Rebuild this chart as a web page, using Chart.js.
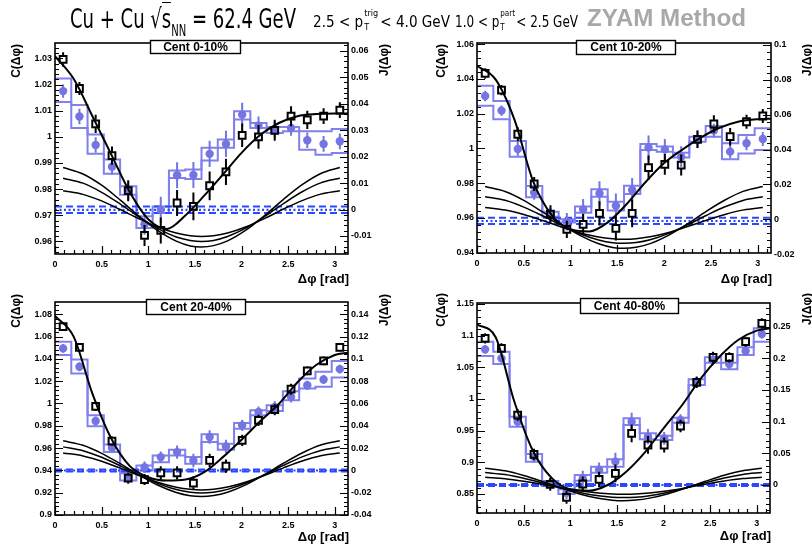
<!DOCTYPE html>
<html><head><meta charset="utf-8">
<script src="https://cdn.jsdelivr.net/npm/chart.js@4.4.1/dist/chart.umd.min.js"></script>
<style>
body{margin:0;width:812px;height:552px;background:#fff;position:relative;overflow:hidden;font-family:"Liberation Sans",Arial,sans-serif}
.pn{position:absolute}
.tt{position:absolute;white-space:nowrap;color:#000;z-index:5;transform-origin:0 0}
.nar{font-family:"Liberation Sans Narrow","DejaVu Sans Condensed","Liberation Sans",sans-serif;font-stretch:condensed}
.ss{display:inline-block;position:relative;width:17px;height:10px}
.ss .sp{position:absolute;left:1px;top:-9px;font-size:9px}
.ss .sb{position:absolute;left:1px;top:5px;font-size:9px}
</style></head><body>
<div class="pn" style="left:0;top:0"><canvas id="c1" width="406" height="290"></canvas></div>
<div class="pn" style="left:406px;top:0"><canvas id="c2" width="406" height="290"></canvas></div>
<div class="pn" style="left:0;top:290px"><canvas id="c3" width="406" height="262"></canvas></div>
<div class="pn" style="left:406px;top:290px"><canvas id="c4" width="406" height="262"></canvas></div>

<div class="tt nar" data-w="226" style="left:70px;top:3px;font-size:27px">Cu + Cu <span>√</span><span style="border-top:1.6px solid #000">s</span><span style="font-size:15px;position:relative;top:8px">NN</span> = 62.4 GeV</div>
<div class="tt nar" data-w="137" style="left:313px;top:13px;font-size:15px">2.5 &lt; p<span class="ss"><span class="sp">trig</span><span class="sb">T</span></span>&lt; 4.0 GeV</div>
<div class="tt nar" data-w="123" style="left:455px;top:13px;font-size:15px">1.0 &lt; p<span class="ss" style="width:19px"><span class="sp">part</span><span class="sb">T</span></span>&lt; 2.5 GeV</div>
<div class="tt" data-w="159" style="left:587px;top:4px;font-size:24px;font-weight:bold;color:#a8a8a8">ZYAM Method</div>

<script>
// ---------- shared categories / grids ----------
const BIN_X = [0.087,0.262,0.436,0.611,0.785,0.960,1.134,1.309,1.484,1.658,1.833,2.007,2.182,2.356,2.531,2.705,2.880,3.054];
const BIN_EDGES = [0,0.1745,0.3491,0.5236,0.6981,0.8727,1.0472,1.2217,1.3963,1.5708,1.7453,1.9199,2.0944,2.2689,2.4435,2.6180,2.7925,2.9671,3.1416];
const FIT_X = [0,0.2,0.4,0.6,0.8,1.0,1.2,1.4,1.6,1.8,2.0,2.2,2.4,2.6,2.8,3.0,3.1416];
const BG_X  = [0.087,0.3,0.5,0.7,0.9,1.1,1.3,1.45,1.571,1.7,1.85,2.05,2.25,2.45,2.65,2.85,3.054];
const X_TICKS = [0,0.5,1,1.5,2,2.5,3];

// ---------- Panel 1 : Cent 0-10% ----------
const P1_black    = [1.0296,1.0185,1.0050,0.9928,0.9794,0.9623,0.9642,0.9747,0.9734,0.9813,0.9866,1.0006,1.0000,1.0025,1.0079,1.0065,1.0079,1.0102];
const P1_blackErr = [0.0028,0.0025,0.0035,0.0035,0.004,0.004,0.005,0.005,0.0053,0.0055,0.005,0.0045,0.0045,0.004,0.0038,0.0035,0.003,0.003];
const P1_blue     = [1.0175,1.0078,0.9969,0.9886,0.9794,0.9666,0.9721,0.9853,0.9854,0.9935,0.9973,1.0085,1.0043,1.0028,1.0034,0.9987,0.9973,0.9983];
const P1_blueErr  = [0.0025,0.003,0.003,0.003,0.0035,0.004,0.005,0.005,0.005,0.005,0.005,0.0045,0.0035,0.003,0.003,0.003,0.003,0.003];
const P1_sysHi    = [1.0223,1.0122,1.0009,0.9913,0.9811,0.9696,0.9734,0.9871,0.9875,0.9958,0.9990,1.0098,1.0053,1.0038,1.0038,1.0021,1.0021,1.0030];
const P1_sysLo    = [1.0133,1.0034,0.9935,0.9859,0.9779,0.9651,0.9709,0.9843,0.9839,0.9910,0.9958,1.0066,1.0034,1.0015,1.0021,0.9951,0.9932,0.9938];
const P1_fit      = [1.0309,1.0222,1.0080,0.9935,0.9790,0.9685,0.9648,0.9700,0.9775,0.9856,0.9939,1.0007,1.0053,1.0079,1.0087,1.0089,1.0089];
const P1_bgA      = [0.9883,0.9858,0.9815,0.9758,0.9697,0.9642,0.9601,0.9583,0.9579,0.9584,0.9602,0.9644,0.9700,0.9761,0.9817,0.9860,0.9883];
const P1_bgB      = [0.9842,0.9823,0.9788,0.9743,0.9694,0.9650,0.9617,0.9604,0.9600,0.9604,0.9619,0.9652,0.9696,0.9745,0.9790,0.9824,0.9842];
const P1_bgC      = [0.9794,0.9780,0.9755,0.9722,0.9687,0.9655,0.9632,0.9622,0.9619,0.9622,0.9632,0.9656,0.9688,0.9724,0.9756,0.9781,0.9794];
const P1_base     = [0.9734,0.9721,0.9709];
const P1_yTicks   = [0.96,0.97,0.98,0.99,1.0,1.01,1.02,1.03];
const P1_jTicks   = [-0.01,0,0.01,0.02,0.03,0.04,0.05,0.06];

// ---------- Panel 2 : Cent 10-20% ----------
const P2_black    = [1.0431,1.0335,1.0081,0.9795,0.9622,0.9534,0.9563,0.9626,0.9540,0.9626,0.9889,0.9908,0.9904,1.0052,1.0140,1.0067,1.0153,1.0186];
const P2_blackErr = [0.003,0.003,0.004,0.004,0.005,0.005,0.006,0.007,0.007,0.008,0.007,0.006,0.006,0.005,0.005,0.005,0.004,0.004];
const P2_blue     = [1.0301,1.0217,0.9996,0.9745,0.9617,0.9578,0.9649,0.9741,0.9670,0.9760,1.0004,0.9994,0.9952,1.0052,1.0102,0.9981,1.0029,1.0054];
const P2_blueErr  = [0.003,0.003,0.004,0.004,0.004,0.005,0.006,0.007,0.007,0.007,0.007,0.006,0.006,0.005,0.004,0.004,0.004,0.004];
const P2_sysHi    = [1.0360,1.0272,1.0042,0.9783,0.9636,0.9592,0.9665,0.9764,0.9693,0.9785,1.0025,1.0010,0.9975,1.0067,1.0128,1.0029,1.0077,1.0115];
const P2_sysLo    = [1.0245,1.0167,0.9952,0.9718,0.9607,0.9573,0.9630,0.9722,0.9642,0.9737,0.9990,0.9981,0.9948,1.0038,1.0067,0.9937,0.9971,0.9990];
const P2_fit      = [1.0475,1.0395,1.0165,0.9810,0.9615,0.9535,0.9522,0.9575,0.9680,0.9805,0.9915,0.9995,1.0065,1.0120,1.0155,1.0168,1.0170];
const P2_bgA      = [0.9780,0.9752,0.9701,0.9634,0.9563,0.9499,0.9451,0.9430,0.9425,0.9431,0.9452,0.9501,0.9566,0.9638,0.9703,0.9754,0.9780];
const P2_bgB      = [0.9722,0.9701,0.9662,0.9612,0.9558,0.9509,0.9473,0.9457,0.9454,0.9458,0.9474,0.9511,0.9560,0.9614,0.9664,0.9702,0.9722];
const P2_bgC      = [0.9660,0.9645,0.9619,0.9585,0.9548,0.9515,0.9490,0.9480,0.9477,0.9480,0.9491,0.9516,0.9550,0.9586,0.9620,0.9646,0.9660];
const P2_base     = [0.9601,0.9582,0.9565];
const P2_yTicks   = [0.94,0.96,0.98,1.0,1.02,1.04,1.06];
const P2_jTicks   = [-0.02,0,0.02,0.04,0.06,0.08,0.1];

// ---------- Panel 3 : Cent 20-40% ----------
const P3_black    = [1.0689,1.0503,0.9975,0.9663,0.9330,0.9318,0.9378,0.9378,0.9285,0.9489,0.9438,0.9669,0.9849,0.9945,1.0128,1.0293,1.0383,1.0503];
const P3_blackErr = [0.004,0.004,0.004,0.004,0.005,0.005,0.006,0.006,0.006,0.006,0.006,0.005,0.005,0.005,0.005,0.004,0.004,0.004];
const P3_blue     = [1.0494,1.0329,0.9843,0.9603,0.9339,0.9429,0.9519,0.9564,0.9489,0.9699,0.9615,0.9804,0.9924,0.9969,1.0059,1.0164,1.0215,1.0308];
const P3_blueErr  = [0.004,0.004,0.004,0.004,0.004,0.005,0.005,0.006,0.006,0.006,0.006,0.005,0.005,0.005,0.005,0.004,0.004,0.004];
const P3_sysHi    = [1.0554,1.0395,0.9894,0.9633,0.9375,0.9444,0.9534,0.9585,0.9519,0.9723,0.9639,0.9825,0.9939,0.9984,1.0110,1.0224,1.0284,1.0380];
const P3_sysLo    = [1.0434,1.0269,0.9795,0.9564,0.9309,0.9399,0.9474,0.9534,0.9459,0.9654,0.9585,0.9774,0.9894,0.9933,1.0029,1.0134,1.0149,1.0233];
const P3_fit      = [1.0785,1.0599,1.0090,0.9690,0.9440,0.9339,0.9309,0.9318,0.9384,0.9519,0.9675,0.9840,0.9995,1.0190,1.0345,1.0435,1.0455];
const P3_bgA      = [0.9665,0.9625,0.9553,0.9460,0.9360,0.9269,0.9202,0.9173,0.9166,0.9174,0.9204,0.9272,0.9364,0.9464,0.9556,0.9627,0.9665];
const P3_bgB      = [0.9611,0.9577,0.9518,0.9441,0.9359,0.9284,0.9228,0.9204,0.9198,0.9205,0.9230,0.9287,0.9362,0.9445,0.9521,0.9579,0.9611];
const P3_bgC      = [0.9556,0.9530,0.9482,0.9420,0.9354,0.9294,0.9249,0.9230,0.9225,0.9231,0.9251,0.9296,0.9357,0.9423,0.9484,0.9531,0.9556];
const P3_base     = [0.9407,0.9399,0.9390];
const P3_yTicks   = [0.9,0.92,0.94,0.96,0.98,1.0,1.02,1.04,1.06,1.08];
const P3_jTicks   = [-0.04,-0.02,0,0.02,0.04,0.06,0.08,0.1,0.12,0.14];

// ---------- Panel 4 : Cent 40-80% ----------
const P4_black    = [1.0958,1.0800,0.9747,0.9126,0.8653,0.8447,0.8658,0.8732,0.8826,0.9458,0.9274,0.9274,0.9574,1.0263,1.0658,1.0658,1.0905,1.1195];
const P4_blackErr = [0.008,0.008,0.009,0.009,0.01,0.01,0.012,0.012,0.014,0.014,0.014,0.012,0.01,0.009,0.009,0.008,0.008,0.008];
const P4_blue     = [1.0784,1.0642,0.9642,0.9089,0.8668,0.8521,0.8747,0.8879,0.9011,0.9642,0.9405,0.9379,0.9668,1.0274,1.0616,1.0553,1.0758,1.1026];
const P4_blueErr  = [0.007,0.007,0.008,0.009,0.009,0.01,0.012,0.012,0.014,0.014,0.012,0.01,0.009,0.008,0.008,0.008,0.007,0.007];
const P4_sysHi    = [1.0905,1.0747,0.9721,0.9132,0.8705,0.8574,0.8800,0.8932,0.9047,0.9695,0.9458,0.9421,0.9705,1.0311,1.0658,1.0574,1.0816,1.1116];
const P4_sysLo    = [1.0679,1.0553,0.9563,0.9011,0.8626,0.8500,0.8711,0.8837,0.8932,0.9589,0.9363,0.9353,0.9626,1.0221,1.0574,1.0468,1.0695,1.0905];
const P4_fit      = [1.1179,1.0975,0.9960,0.9180,0.8755,0.8574,0.8553,0.8642,0.8853,0.9158,0.9537,0.9905,1.0326,1.0668,1.0932,1.1079,1.1116];
const P4_bgA      = [0.8907,0.8866,0.8792,0.8697,0.8595,0.8501,0.8432,0.8403,0.8395,0.8404,0.8435,0.8505,0.8599,0.8701,0.8796,0.8868,0.8907];
const P4_bgB      = [0.8839,0.8807,0.8750,0.8676,0.8597,0.8525,0.8471,0.8448,0.8443,0.8449,0.8473,0.8527,0.8600,0.8679,0.8753,0.8809,0.8839];
const P4_bgC      = [0.8763,0.8742,0.8703,0.8653,0.8599,0.8550,0.8514,0.8499,0.8495,0.8499,0.8515,0.8552,0.8601,0.8655,0.8705,0.8743,0.8763];
const P4_base     = [0.8658,0.8642,0.8626];
const P4_yTicks   = [0.85,0.9,0.95,1.0,1.05,1.1,1.15];
const P4_jTicks   = [0,0.05,0.1,0.15,0.2,0.25];

// ---------- styling ----------
const BLUE_PT = '#7474e2';
const BLUE_BOX = '#8080ee';
const BLUE_LINE = '#2a48ff';
const TICK_FONT = {family:'"Liberation Sans", Arial, sans-serif', size:9, weight:'bold'};
const fmt = v => String(+Number(v).toFixed(3));

const PANELS = [
  {id:'c1', label:'Cent 0-10%', black:P1_black, blackErr:P1_blackErr, blue:P1_blue, blueErr:P1_blueErr, sysHi:P1_sysHi, sysLo:P1_sysLo,
   fit:P1_fit, bg:[P1_bgA,P1_bgB,P1_bgC], base:P1_base, yTicks:P1_yTicks, jTicks:P1_jTicks,
   yMin:0.9552, yMax:1.0359, jMin:-0.0168, jMax:0.0629, yMinor:0.002, jMinor:0.002,
   pad:{left:5,right:8,top:43,bottom:6}, wL:50, wR:50, box:{x:150,y:40,w:90,h:13}, cTitleX:17, jTitleX:385, titleY:44, xTitleY:279},
  {id:'c2', label:'Cent 10-20%', black:P2_black, blackErr:P2_blackErr, blue:P2_blue, blueErr:P2_blueErr, sysHi:P2_sysHi, sysLo:P2_sysLo,
   fit:P2_fit, bg:[P2_bgA,P2_bgB,P2_bgC], base:P2_base, yTicks:P2_yTicks, jTicks:P2_jTicks,
   yMin:0.9398, yMax:1.0606, jMin:-0.0193, jMax:0.1011, yMinor:0.004, jMinor:0.004,
   pad:{left:21,right:5,top:43,bottom:7}, wL:50, wR:36, box:{x:170,y:40,w:99,h:14}, cTitleX:36, jTitleX:402, titleY:44, xTitleY:279},
  {id:'c3', label:'Cent 20-40%', black:P3_black, blackErr:P3_blackErr, blue:P3_blue, blueErr:P3_blueErr, sysHi:P3_sysHi, sysLo:P3_sysLo,
   fit:P3_fit, bg:[P3_bgA,P3_bgB,P3_bgC], base:P3_base, yTicks:P3_yTicks, jTicks:P3_jTicks,
   yMin:0.9, yMax:1.091, jMin:-0.04, jMax:0.151, yMinor:0.004, jMinor:0.004,
   pad:{left:5,right:8,top:12,bottom:7}, wL:50, wR:50, box:{x:146,y:9,w:99,h:15}, cTitleX:17, jTitleX:385, titleY:4, xTitleY:247},
  {id:'c4', label:'Cent 40-80%', black:P4_black, blackErr:P4_blackErr, blue:P4_blue, blueErr:P4_blueErr, sysHi:P4_sysHi, sysLo:P4_sysLo,
   fit:P4_fit, bg:[P4_bgA,P4_bgB,P4_bgC], base:P4_base, yTicks:P4_yTicks, jTicks:P4_jTicks,
   yMin:0.82, yMax:1.1516, jMin:-0.0442, jMax:0.2874, yMinor:0.01, jMinor:0.01,
   pad:{left:21,right:6,top:13,bottom:9}, wL:50, wR:36, box:{x:174,y:8,w:98,h:15}, cTitleX:36, jTitleX:402, titleY:3, xTitleY:246}
];

const pts = (xs, ys) => ys.map((y,i)=>({x:xs[i], y}));
// step outline: value of bin i held from its left edge to its right edge
const stepPts = vals => vals.map((y,i)=>({x:BIN_EDGES[i], y})).concat([{x:BIN_EDGES[vals.length], y:vals[vals.length-1]}]);

function decor(p){
  return {
    id:'decor_'+p.id,
    beforeDatasetDraw(chart, args){
      const ds = chart.data.datasets[args.index];
      if(!ds.errs) return;
      const ctx = chart.ctx, ys = chart.scales.y, ca = chart.chartArea;
      ctx.save();
      ctx.beginPath(); ctx.rect(ca.left, ca.top, ca.width, ca.height); ctx.clip();
      ctx.strokeStyle = ds.errColor; ctx.lineWidth = 2;
      args.meta.data.forEach((el,i)=>{
        const v = ds.data[i].y, e = ds.errs[i];
        const y1 = ys.getPixelForValue(v+e), y0 = ys.getPixelForValue(v), y2 = ys.getPixelForValue(v-e);
        const gap = ds.errGap || 0;
        ctx.beginPath();
        if (y0 - gap > y1) { ctx.moveTo(el.x, y1); ctx.lineTo(el.x, y0 - gap); }
        if (y2 > y0 + gap) { ctx.moveTo(el.x, y0 + gap); ctx.lineTo(el.x, y2); }
        ctx.stroke();
      });
      ctx.restore();
    },
    afterDatasetsDraw(chart){
      const ctx = chart.ctx, ca = chart.chartArea, sx = chart.scales.x, sy = chart.scales.y, sj = chart.scales.j;
      ctx.save();
      ctx.strokeStyle = '#000';
      ctx.lineWidth = 1.2;
      const isMajor = (v, list) => list.some(t => Math.abs(t - v) < 1e-7);
      const loop = (min, max, step, fn) => { for (let k = Math.ceil(min/step - 1e-9); k*step <= max + 1e-9; k++) fn(+(k*step).toFixed(6)); };
      ctx.beginPath();
      loop(sy.min, sy.max, p.yMinor, v => { const y = Math.round(sy.getPixelForValue(v))+0.5; const L = isMajor(v, p.yTicks) ? 8 : 4; ctx.moveTo(ca.left, y); ctx.lineTo(ca.left + L, y); });
      loop(sj.min, sj.max, p.jMinor, v => { const y = Math.round(sj.getPixelForValue(v))+0.5; const L = isMajor(v, p.jTicks) ? 8 : 4; ctx.moveTo(ca.right, y); ctx.lineTo(ca.right - L, y); });
      loop(sx.min, sx.max, 0.1, v => { const x = Math.round(sx.getPixelForValue(v))+0.5; const L = isMajor(v, X_TICKS) ? 8 : 4; ctx.moveTo(x, ca.bottom); ctx.lineTo(x, ca.bottom - L); });
      ctx.stroke();
      ctx.lineWidth = 1.6;
      ctx.strokeRect(ca.left, ca.top, ca.width, ca.height);
      ctx.restore();
    },
    afterDraw(chart){
      const ctx = chart.ctx, ca = chart.chartArea;
      ctx.save();
      const b = p.box;
      ctx.fillStyle = '#fff'; ctx.fillRect(b.x, b.y, b.w, b.h);
      ctx.strokeStyle = '#000'; ctx.lineWidth = 1.4; ctx.strokeRect(b.x+0.5, b.y+0.5, b.w, b.h);
      ctx.fillStyle = '#000'; ctx.font = 'bold 12px "Liberation Sans", Arial, sans-serif';
      ctx.textAlign = 'center'; ctx.textBaseline = 'middle';
      ctx.fillText(p.label, b.x + b.w/2 + 0.5, b.y + b.h/2 + 1);
      ctx.font = 'bold 12px "Liberation Sans", Arial, sans-serif';
      [[p.cTitleX,'C(Δφ)'],[p.jTitleX,'J(Δφ)']].forEach(([x,t])=>{
        ctx.save(); ctx.translate(x, p.titleY); ctx.rotate(-Math.PI/2);
        ctx.textAlign = 'right'; ctx.textBaseline = 'middle'; ctx.fillText(t, 0, 0); ctx.restore();
      });
      ctx.font = 'bold 13px "Liberation Sans", Arial, sans-serif';
      ctx.textAlign = 'right'; ctx.textBaseline = 'middle';
      ctx.fillText('Δφ [rad]', ca.right + 1, p.xTitleY);
      ctx.restore();
    }
  };
}

function makePanel(p){
  const line = (data, extra) => Object.assign({type:'line', data, pointRadius:0, borderColor:'#000', borderWidth:1.6,
      cubicInterpolationMode:'monotone', fill:false, yAxisID:'y'}, extra);
  const datasets = [
    line(stepPts(p.sysHi), {borderColor:BLUE_BOX, borderWidth:2, stepped:true, order:10}),
    line(stepPts(p.sysLo), {borderColor:BLUE_BOX, borderWidth:2, stepped:true, order:10}),
    line([{x:0,y:p.base[0]},{x:Math.PI,y:p.base[0]}], {borderColor:BLUE_LINE, borderWidth:2, borderDash:[7,4], order:9}),
    line([{x:0,y:p.base[2]},{x:Math.PI,y:p.base[2]}], {borderColor:BLUE_LINE, borderWidth:2, borderDash:[7,4], order:9}),
    line([{x:0,y:p.base[1]},{x:Math.PI,y:p.base[1]}], {borderColor:BLUE_LINE, borderWidth:2.2, borderDash:[2,2.5], order:9}),
    {type:'line', data: pts(BIN_X, p.blue), showLine:false, pointStyle:'circle', pointRadius:4.2, pointBackgroundColor:BLUE_PT,
     pointBorderWidth:0, borderColor:BLUE_PT, errs:p.blueErr, errColor:BLUE_PT, errGap:0, order:8, yAxisID:'y'},
    line(pts(BG_X, p.bg[0]), {borderWidth:1.5, order:7}),
    line(pts(BG_X, p.bg[1]), {borderWidth:1.5, order:7}),
    line(pts(BG_X, p.bg[2]), {borderWidth:1.5, order:7}),
    {type:'line', data: pts(BIN_X, p.black), showLine:false, pointStyle:'rect', pointRadius:4.8, pointBorderWidth:2,
     pointBorderColor:'#000', pointBackgroundColor:'rgba(0,0,0,0)', borderColor:'#000', errs:p.blackErr, errColor:'#000', errGap:4, order:6, yAxisID:'y'},
    line(pts(FIT_X, p.fit), {borderWidth:2, order:5})
  ];
  const tickSet = list => axis => { axis.ticks = list.map(v => ({value:v})); };
  new Chart(document.getElementById(p.id), {
    type:'line',
    data:{datasets},
    options:{
      responsive:false, animation:false, events:[],
      layout:{padding:p.pad},
      plugins:{legend:{display:false}, tooltip:{enabled:false}},
      scales:{
        x:{type:'linear', min:0, max:Math.PI, offset:false, grid:{display:false, drawTicks:false, offset:false}, border:{display:false},
           afterBuildTicks: tickSet(X_TICKS), afterFit: s => { s.height = 30; },
           ticks:{font:TICK_FONT, color:'#000', padding:5, maxRotation:0, autoSkip:false, callback:fmt}},
        y:{type:'linear', position:'left', min:p.yMin, max:p.yMax, grid:{display:false, drawTicks:false}, border:{display:false},
           afterBuildTicks: tickSet(p.yTicks), afterFit: s => { s.width = p.wL; },
           ticks:{font:TICK_FONT, color:'#000', padding:3, autoSkip:false, callback:fmt}},
        j:{type:'linear', position:'right', min:p.jMin, max:p.jMax, grid:{display:false, drawTicks:false}, border:{display:false},
           afterBuildTicks: tickSet(p.jTicks), afterFit: s => { s.width = p.wR; },
           ticks:{font:TICK_FONT, color:'#000', padding:3, autoSkip:false, callback:fmt}}
      }
    },
    plugins:[decor(p)]
  });
}
PANELS.forEach(makePanel);

// fit header texts to the reference widths
document.querySelectorAll('[data-w]').forEach(el => {
  const w = el.getBoundingClientRect().width;
  el.style.transform = 'scaleX(' + (Number(el.dataset.w) / w).toFixed(4) + ')';
});
</script>
</body></html>
